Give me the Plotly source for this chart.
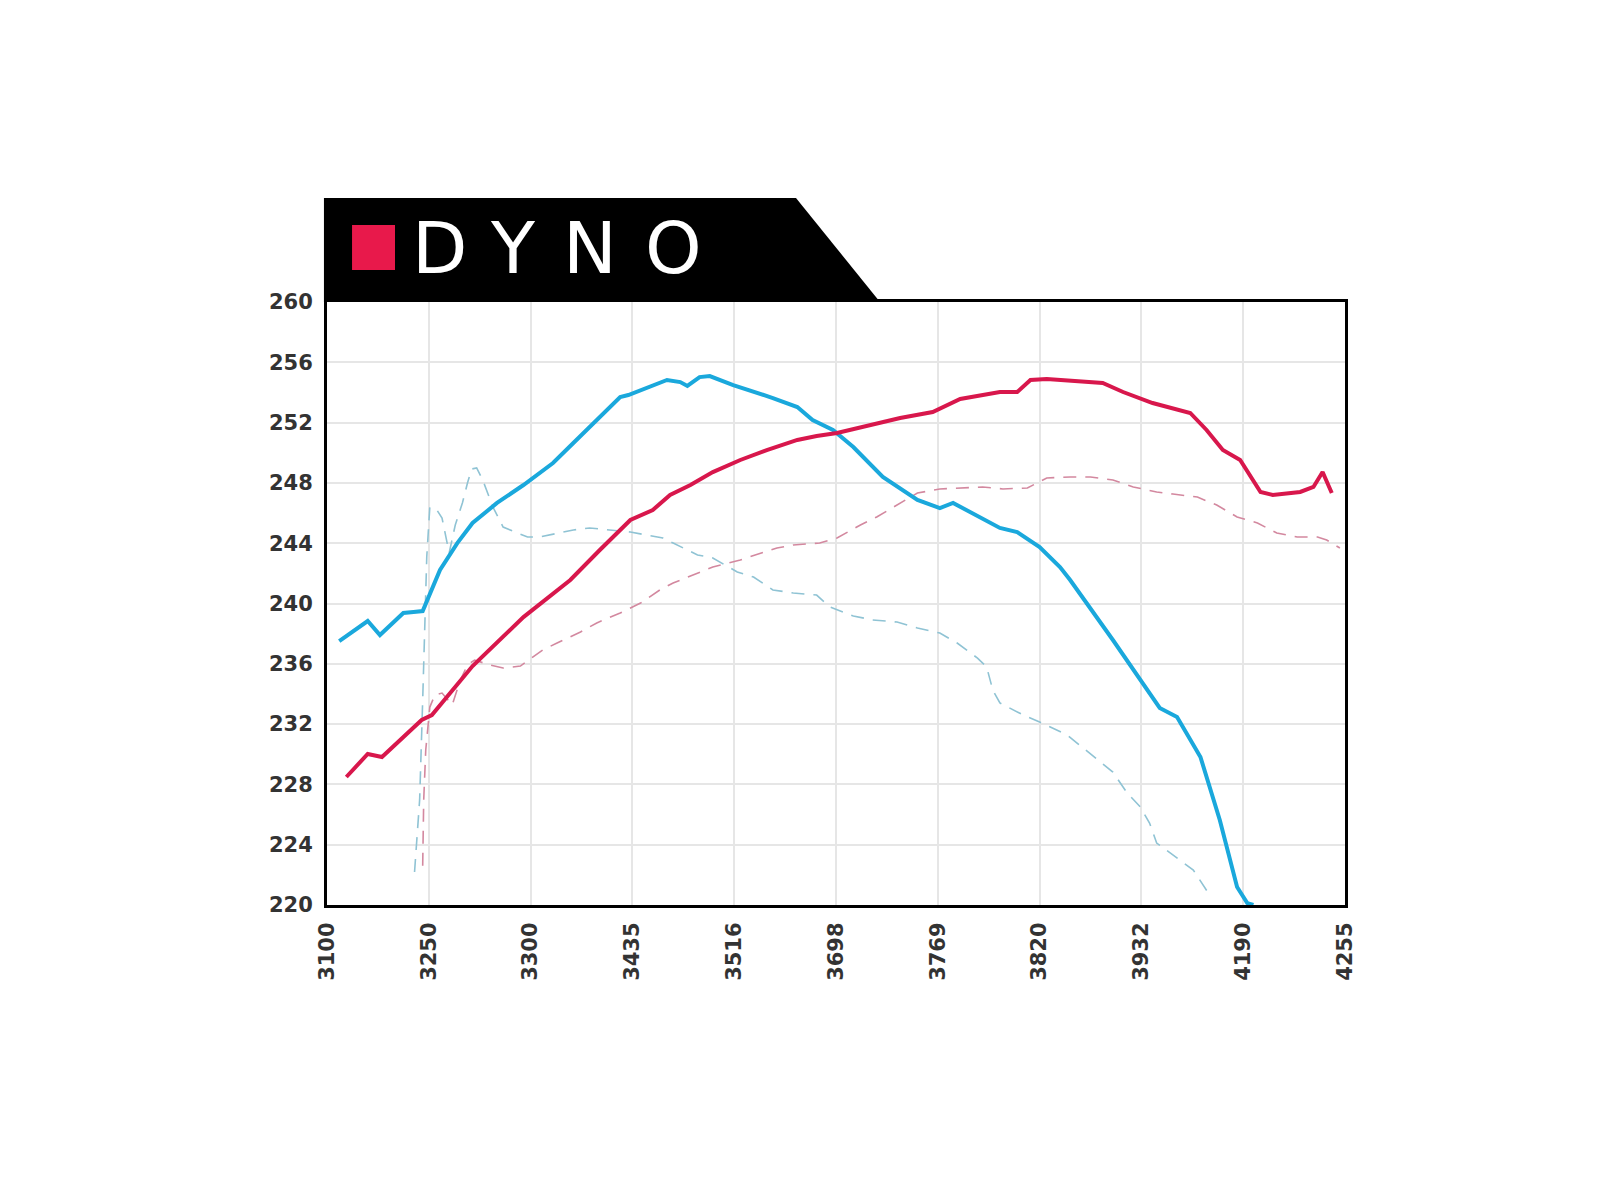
import plotly.graph_objects as go

# ---- categories / tick labels ----
rpm_labels = ["3100", "3250", "3300", "3435", "3516", "3698", "3769", "3820", "3932", "4190", "4255"]
y_ticks = [220, 224, 228, 232, 236, 240, 244, 248, 252, 256, 260]

# ---- series (x in tick-slot units, 0 = 3100 ... 10 = 4255) ----
blue_x = [0.12, 0.40, 0.52, 0.75, 0.85, 0.94, 1.11, 1.28, 1.43, 1.67, 1.93, 2.22, 2.42, 2.65, 2.88,
          2.96, 3.08, 3.17, 3.34, 3.47, 3.54, 3.66, 3.76, 3.99, 4.38, 4.62, 4.77, 4.97, 5.17, 5.46,
          5.80, 6.02, 6.15, 6.61, 6.78, 7.00, 7.20, 7.30, 7.72, 8.18, 8.35, 8.58, 8.77, 8.94, 9.04, 9.10]
blue_y = [237.51, 238.84, 237.91, 239.37, 239.44, 239.50, 242.22, 244.01, 245.34, 246.67, 247.86,
          249.32, 250.65, 252.17, 253.70, 253.83, 254.16, 254.36, 254.83, 254.69, 254.43, 255.02,
          255.09, 254.49, 253.63, 253.03, 252.17, 251.51, 250.38, 248.39, 246.87, 246.33, 246.67,
          245.01, 244.74, 243.75, 242.42, 241.56, 237.58, 233.07, 232.47, 229.82, 225.64, 221.19,
          220.13, 220.0]

red_x = [0.19, 0.40, 0.54, 0.93, 1.03, 1.43, 1.93, 2.39, 2.68, 2.98, 3.20, 3.37, 3.57, 3.79, 4.06,
         4.32, 4.62, 4.81, 5.01, 5.36, 5.63, 5.95, 6.22, 6.61, 6.78, 6.91, 7.07, 7.62, 7.82, 8.11,
         8.48, 8.64, 8.80, 8.97, 9.17, 9.29, 9.56, 9.69, 9.78, 9.87]
red_y = [228.49, 230.02, 229.82, 232.27, 232.60, 235.85, 239.10, 241.56, 243.55, 245.54, 246.20,
         247.20, 247.86, 248.72, 249.52, 250.18, 250.85, 251.11, 251.31, 251.84, 252.31, 252.70,
         253.57, 254.03, 254.03, 254.83, 254.89, 254.63, 254.03, 253.30, 252.64, 251.51, 250.18,
         249.52, 247.40, 247.20, 247.40, 247.73, 248.72, 247.33]

blue_dash_x = [0.86, 0.91, 0.94, 0.96, 0.98, 1.01, 1.08, 1.13, 1.20, 1.26, 1.33, 1.38, 1.42, 1.47,
               1.53, 1.63, 1.73, 1.97, 2.09, 2.42, 2.58, 2.98, 3.30, 3.40, 3.64, 3.79, 4.03, 4.19,
               4.38, 4.58, 4.81, 4.94, 5.17, 5.36, 5.60, 5.80, 6.02, 6.19, 6.39, 6.48, 6.54, 6.61,
               6.84, 7.00, 7.27, 7.72, 7.86, 7.99, 8.08, 8.15, 8.38, 8.51, 8.67]
blue_dash_y = [222.19, 226.97, 233.60, 239.37, 243.08, 246.40, 246.20, 245.67, 243.35, 245.21,
               246.67, 247.99, 248.92, 248.99, 248.19, 246.40, 245.07, 244.41, 244.41, 244.88,
               245.01, 244.74, 244.34, 244.01, 243.22, 243.02, 242.09, 241.76, 240.90, 240.70,
               240.56, 239.77, 239.17, 238.91, 238.77, 238.37, 238.04, 237.38, 236.38, 235.79,
               234.26, 233.40, 232.60, 232.14, 231.28, 228.82, 227.43, 226.50, 225.44, 224.11,
               222.99, 222.32, 220.66]

red_dash_x = [0.94, 0.95, 0.97, 1.01, 1.06, 1.13, 1.23, 1.31, 1.38, 1.45, 1.60, 1.73, 1.90, 2.12,
              2.26, 2.49, 2.65, 2.88, 3.08, 3.27, 3.40, 3.64, 3.79, 4.06, 4.22, 4.42, 4.58, 4.84,
              5.01, 5.24, 5.40, 5.60, 5.80, 6.02, 6.22, 6.44, 6.64, 6.88, 7.07, 7.30, 7.50, 7.72,
              7.92, 8.15, 8.31, 8.55, 8.74, 8.94, 9.14, 9.33, 9.53, 9.73, 9.82, 9.95]
red_dash_y = [222.60, 226.97, 230.28, 233.13, 233.93, 234.06, 233.27, 234.93, 235.92, 236.25,
              235.92, 235.72, 235.85, 236.92, 237.38, 238.11, 238.71, 239.37, 240.03, 240.90,
              241.36, 242.02, 242.42, 242.89, 243.22, 243.68, 243.88, 244.01, 244.34, 245.21,
              245.74, 246.53, 247.33, 247.60, 247.66, 247.73, 247.60, 247.66, 248.33, 248.39,
              248.39, 248.19, 247.73, 247.40, 247.26, 247.06, 246.53, 245.74, 245.34, 244.68,
              244.41, 244.41, 244.21, 243.68]

BLUE = "#1aa8dc"
RED = "#d8174c"
BLUE_D = "#8fc3d4"
RED_D = "#d3889f"

fig = go.Figure()
fig.add_trace(go.Scatter(x=blue_dash_x, y=blue_dash_y, mode="lines",
                         line=dict(color=BLUE_D, width=1.6, dash="13px,9px"), showlegend=False))
fig.add_trace(go.Scatter(x=red_dash_x, y=red_dash_y, mode="lines",
                         line=dict(color=RED_D, width=1.6, dash="13px,9px"), showlegend=False))
fig.add_trace(go.Scatter(x=blue_x, y=blue_y, mode="lines",
                         line=dict(color=BLUE, width=4), showlegend=False))
fig.add_trace(go.Scatter(x=red_x, y=red_y, mode="lines",
                         line=dict(color=RED, width=4), showlegend=False))

# title tab
fig.add_shape(type="path", xref="paper", yref="paper",
              path="M -0.003 1.0 L -0.003 1.1725 L 0.4607 1.1725 L 0.5432 1.0 Z",
              fillcolor="black", line=dict(width=0), layer="above")
fig.add_shape(type="rect", xref="paper", yref="paper",
              x0=0.0246, x1=0.0668, y0=1.0531, y1=1.1277,
              fillcolor="#e8194b", line=dict(width=0), layer="above")
for letter, xc in zip(["D", "Y", "N", "O"], [439, 513, 590, 673]):
    fig.add_annotation(text=letter, xref="paper", yref="paper",
                       x=(xc - 327) / 1018, y=1.089, xanchor="center", yanchor="middle",
                       showarrow=False,
                       font=dict(family="DejaVu Sans", size=72, color="white"))

axis_font = dict(family="DejaVu Sans", size=21, color="#333333", weight="bold")
fig.update_layout(
    width=1600, height=1200,
    margin=dict(l=319, r=263, t=294, b=303),
    paper_bgcolor="white", plot_bgcolor="white",
    xaxis=dict(range=[0, 10], tickmode="array", tickvals=list(range(len(rpm_labels))),
               ticktext=rpm_labels, tickangle=-90, showgrid=True, gridcolor="#e6e6e6",
               gridwidth=2, zeroline=False, showline=True, linecolor="black", linewidth=3,
               mirror=True, ticks="", tickfont=axis_font, ticklabelstandoff=6),
    yaxis=dict(range=[220, 260], tickmode="array", tickvals=y_ticks,
               ticktext=[str(v) for v in y_ticks], showgrid=True, gridcolor="#e6e6e6",
               gridwidth=2, zeroline=False, showline=True, linecolor="black", linewidth=3,
               mirror=True, ticks="", tickfont=axis_font, ticklabelstandoff=7),
)
fig.write_html("out.html")
